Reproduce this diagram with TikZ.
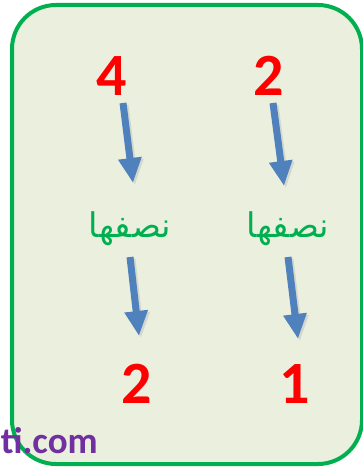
\documentclass[tikz,border=0pt]{standalone}
\usepackage{fontspec}
\usetikzlibrary{arrows.meta}
\TeXXeTstate=1
\newfontfamily\carl{Carlito}
\newfontfamily\arabicfont[Script=Arabic]{DejaVu Sans}
\definecolor{boxfill}{RGB}{235,240,222}
\definecolor{boxgreen}{RGB}{0,176,80}
\definecolor{arrblue}{RGB}{79,129,189}
\definecolor{purp}{RGB}{112,48,160}
\tikzset{
  num/.style={inner sep=0pt, text=red, font=\carl\bfseries\fontsize{60}{60}\selectfont},
  half/.style={inner sep=0pt, text=boxgreen, font=\arabicfont\fontsize{34}{34}\selectfont},
  blockarrow/.style={draw=arrblue, line width=7pt, -{Triangle[width=22pt,length=25pt]}, arrblue},
  arrshadow/.style={draw=black!25, line width=7pt, -{Triangle[width=22pt,length=25pt]}, black!25, opacity=0.5},
}
\begin{document}
\begin{tikzpicture}[x=1pt,y=-1pt]
\useasboundingbox (0,0) rectangle (363,468);
\clip (0,0) rectangle (363,468);
\fill[white] (0,0) rectangle (363,468);
\draw[draw=boxgreen, fill=boxfill, line width=4pt, rounded corners=44pt] (12,5) rectangle (362,464);
% numbers
\node[num] (t4) at (112,76) {4};
\node[num] (t2) at (269,76) {2};
\node[num] (b2) at (137,384) {2};
\node[num] (b1) at (295,384) {1};
% Arabic labels
\node[half] (hl) at (130,229) {\beginR نصفها\endR};
\node[half] (hr) at (288,229) {\beginR نصفها\endR};
% arrow end points
\coordinate (a1s) at (123,103); \coordinate (a1e) at (133,183);
\coordinate (a2s) at (273,103); \coordinate (a2e) at (284,186);
\coordinate (a3s) at (130,257); \coordinate (a3e) at (139,336);
\coordinate (a4s) at (288,257); \coordinate (a4e) at (298,339);
\foreach \s/\e in {a1s/a1e,a2s/a2e,a3s/a3e,a4s/a4e}{
  \draw[arrshadow] ([shift={(2,2)}]\s) -- ([shift={(2,2)}]\e);
  \draw[blockarrow] (\s) -- (\e);
}
% watermark text
\node[anchor=base east, inner sep=0pt, text=purp, font=\carl\bfseries\fontsize{37}{37}\selectfont] (wm) at (98,453) {ti.com};
\end{tikzpicture}
\end{document}
